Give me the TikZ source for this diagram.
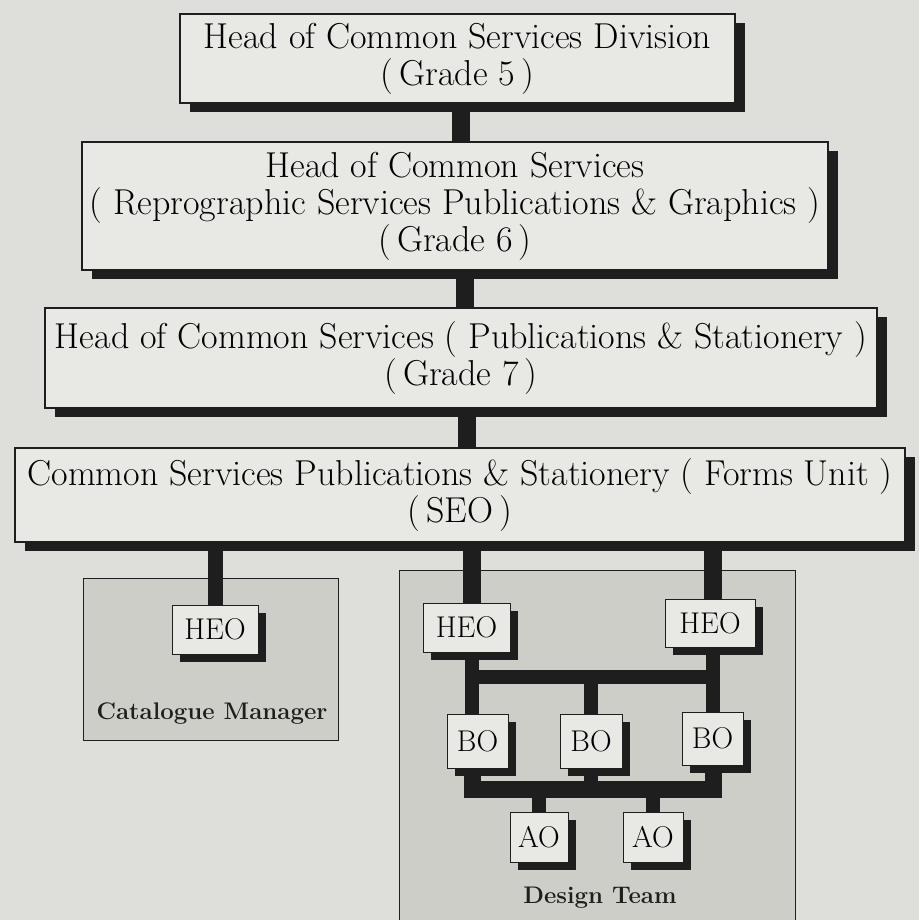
\documentclass[tikz,border=0pt]{standalone}
\usetikzlibrary{shadows}
\definecolor{bgc}{RGB}{222,222,218}
\definecolor{panelc}{RGB}{206,206,201}
\definecolor{boxc}{RGB}{232,232,228}
\definecolor{inkc}{RGB}{30,30,30}
\pgfdeclarelayer{layerA}
\pgfdeclarelayer{layerB}
\pgfsetlayers{layerA,layerB,main}
\tikzset{
  bigbox/.style={draw=inkc, line width=1.2pt, fill=boxc, align=center, inner sep=0pt,
    font=\fontsize{36}{37}\selectfont,
    drop shadow={shadow xshift=10pt, shadow yshift=-9pt, opacity=1, fill=inkc}},
  smallbox/.style={draw=inkc, line width=1pt, fill=boxc, inner sep=0pt,
    font=\fontsize{30}{34}\selectfont,
    drop shadow={shadow xshift=8pt, shadow yshift=-8pt, opacity=1, fill=inkc}},
  panel/.style={draw=inkc, line width=1pt, fill=panelc, inner sep=0pt},
  paneltext/.style={font=\bfseries\fontsize{24}{28}\selectfont, text=inkc},
  mainbar/.style={draw=inkc, line width=18pt},
  tbar/.style={draw=inkc, line width=14pt},
}
\begin{document}
\begin{tikzpicture}[x=1pt, y=-1pt]
\useasboundingbox (0,0) rectangle (919,920);

% coordinates for the bars
\coordinate (c1) at (461,0);
\coordinate (c2) at (465,0);
\coordinate (c3) at (467,0);
\coordinate (ul) at (472,677);
\coordinate (ur) at (713,677);
\coordinate (ll) at (472,789);
\coordinate (lr) at (713,789);

% main boxes
\node[bigbox, minimum width=555, minimum height=89] (b1) at (457.5,58.5)
  {Head of Common Services Division\\(\,Grade 5\,)};
\node[bigbox, minimum width=746, minimum height=128] (b2) at (455,206)
  {Head of Common Services\\( Reprographic Services Publications \& Graphics )\\(\,Grade 6\,)};
\node[bigbox, minimum width=832, minimum height=100] (b3) at (461,358)
  {Head of Common Services ( Publications \& Stationery )\\(\,Grade 7\,)};
\node[bigbox, minimum width=890, minimum height=94] (b4) at (460,495)
  {Common Services Publications \& Stationery ( Forms Unit )\\(\,SEO\,)};

% small boxes
\node[smallbox, minimum width=86, minimum height=49] (cheo) at (215,629.5) {HEO};
\node[smallbox, minimum width=87, minimum height=49] (dheo1) at (466.5,627.5) {HEO};
\node[smallbox, minimum width=90, minimum height=48] (dheo2) at (710,623) {HEO};
\node[smallbox, minimum width=61, minimum height=54] (bo1) at (477.5,741) {BO};
\node[smallbox, minimum width=62, minimum height=54] (bo2) at (591,741) {BO};
\node[smallbox, minimum width=61, minimum height=53] (bo3) at (712.5,738.5) {BO};
\node[smallbox, minimum width=58, minimum height=50] (ao1) at (539,837) {AO};
\node[smallbox, minimum width=60, minimum height=50] (ao2) at (653,837) {AO};

% panel labels
\node[paneltext] (ctext) at (212,714) {Catalogue Manager};
\node[paneltext] (dtext) at (600,898) {Design Team};

% background and panels
\begin{pgfonlayer}{layerA}
\fill[bgc] (0,0) rectangle (919,920);
\node[panel, minimum width=255, minimum height=162] (cpanel) at (210.5,659) {};
\node[panel, minimum width=396, minimum height=352] (dpanel) at (597,746) {};
\end{pgfonlayer}

% connectors
\begin{pgfonlayer}{layerB}
\draw[mainbar] (b1.south -| c1) -- (b2.north -| c1);
\draw[mainbar] (b2.south -| c2) -- (b3.north -| c2);
\draw[mainbar] (b3.south -| c3) -- (b4.north -| c3);
\draw[mainbar, line width=15pt] (b4.south -| cheo.north) -- (cheo.north);
\draw[mainbar] (b4.south -| ul) -- (dheo1.north -| ul);
\draw[mainbar] (b4.south -| ur) -- (dheo2.north -| ur);
\draw[tbar] (dheo1.south -| ul) -- (bo1.north -| ul);
\draw[tbar] (dheo2.south -| ur) -- (bo3.north -| ur);
\draw[tbar, line cap=rect] (ul) -- (ur);
\draw[tbar] (bo2.north) -- (bo2.north |- ul);
\draw[tbar, line width=17pt, line join=miter] (bo1.south -| ll) -- (ll) -- (lr) -- (bo3.south -| lr);
\draw[tbar] (bo2.south) -- (bo2.south |- ll);
\draw[tbar] (ao1.north) -- (ao1.north |- ll);
\draw[tbar] (ao2.north) -- (ao2.north |- ll);
\end{pgfonlayer}
\end{tikzpicture}
\end{document}
